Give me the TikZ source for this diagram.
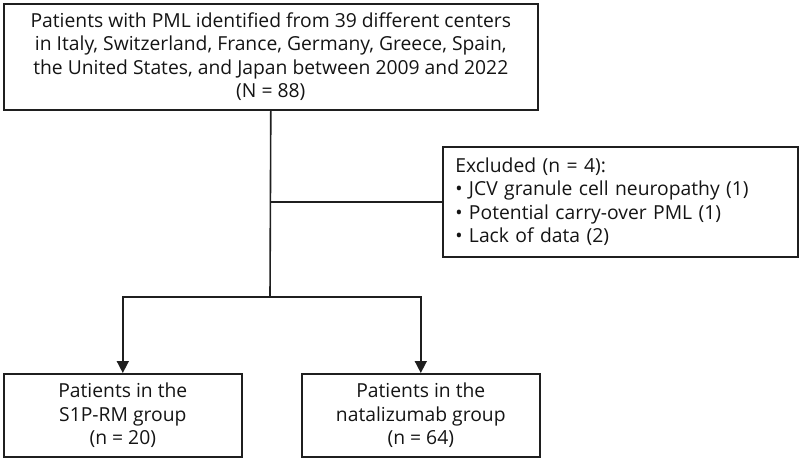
\documentclass[tikz,border=0pt]{standalone}
\usepackage{fontspec}
\setmainfont{Open Sans}
\usetikzlibrary{arrows.meta}
\begin{document}
\begin{tikzpicture}[x=1pt,y=-1pt,
  box/.style={draw=black!88, line width=1.6pt, align=center, text=black!92,
    font=\fontsize{19.3}{23.5}\selectfont, inner sep=0pt, anchor=north west},
  conn/.style={line width=1.6pt, draw=black!88},
  arr/.style={conn, -{Triangle[width=12pt,length=12pt]}}]
\useasboundingbox (0,0) rectangle (800,459);
\node[box, minimum width=534pt, minimum height=106pt] (top) at (3,3)
  {Patients with PML identified from 39 different centers\\
   in Italy, Switzerland, France, Germany, Greece, Spain,\\
   the United States, and Japan between 2009 and 2022\\
   (N = 88)};
\node[box, align=left, text width=330pt, minimum width=355pt, minimum height=110pt] (exc) at (442,146)
  {Excluded (n = 4):\\
   • JCV granule cell neuropathy (1)\\
   • Potential carry-over PML (1)\\
   • Lack of data (2)};
\node[box, minimum width=238pt, minimum height=83pt] (bl) at (3,373)
  {Patients in the\\ S1P-RM group\\ (n = 20)};
\node[box, minimum width=238pt, minimum height=83pt] (br) at (301,373)
  {Patients in the\\ natalizumab group\\ (n = 64)};
\coordinate (j) at (270,297);
\draw[conn] (top.south) -- (j);
\draw[conn] (exc.west) -- (exc.west -| top.south);
\draw[arr] (j) -| (bl.north);
\draw[arr] (j) -| (br.north);
\end{tikzpicture}
\end{document}
